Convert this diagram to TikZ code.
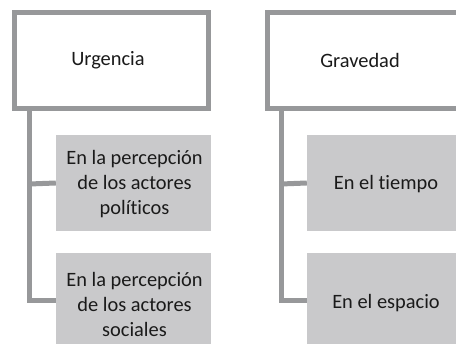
\documentclass[tikz,border=0pt]{standalone}
\usepackage{fontspec}
\setmainfont{Carlito}[Ligatures=NoCommon]
\definecolor{edgegray}{RGB}{151,152,154}
\definecolor{boxgray}{RGB}{201,201,203}
\definecolor{txt}{RGB}{26,26,26}
\begin{document}
\begin{tikzpicture}[x=1pt,y=-1pt,
  topbox/.style={draw=edgegray, line width=5pt, fill=white, minimum width=194pt, minimum height=96pt, inner sep=0pt},
  subbox/.style={fill=boxgray, minimum width=155pt, minimum height=96pt, inner sep=0pt},
  lbl/.style={text=txt, font=\fontsize{20.4}{25}\selectfont, align=center},
  conn/.style={draw=edgegray, line width=5pt, line join=miter}]
\useasboundingbox (0,0) rectangle (456,344);
\clip (0,0) rectangle (456,344);
% left column
\node[topbox] (urg) at (111.5,60.5) {};
\node[lbl] (urgT) at (108,60) {Urgencia};
\node[subbox] (pol) at (133.5,183) {};
\node[lbl] (polT) at (134.5,184) {En la percepción\\de los actores\\políticos};
\node[subbox] (soc) at (133.5,301) {};
\node[lbl] (socT) at (134.5,304) {En la percepción\\de los actores\\sociales};
\coordinate (lb) at (29.5,184);
\draw[conn] (urg.south -| lb) |- (soc.west);
\draw[conn] (lb) -- (pol.west);
% right column
\node[topbox] (grav) at (364.5,60.5) {};
\node[lbl] (gravT) at (360,60) {Gravedad};
\node[subbox] (tie) at (384.5,183) {};
\node[lbl] (tieT) at (386,184) {En el tiempo};
\node[subbox] (esp) at (384.5,301) {};
\node[lbl] (espT) at (386,303) {En el espacio};
\coordinate (rb) at (281,184);
\draw[conn] (grav.south -| rb) |- (esp.west);
\draw[conn] (rb) -- (tie.west);
\end{tikzpicture}
\end{document}
